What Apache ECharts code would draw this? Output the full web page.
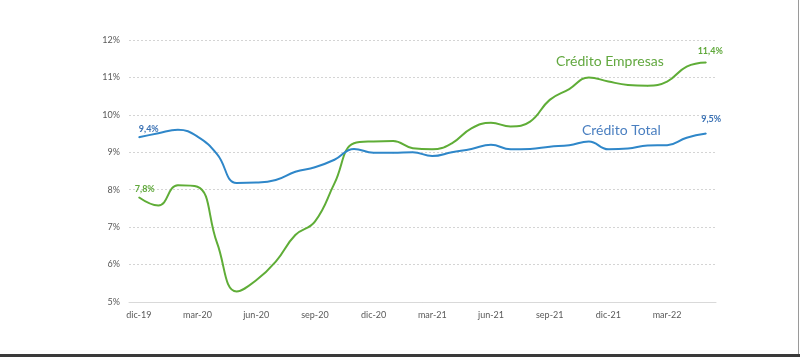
<!DOCTYPE html>
<html><head><meta charset="utf-8">
<script src="https://cdn.jsdelivr.net/npm/echarts@6/dist/echarts.min.js"></script>
<style>html,body{margin:0;padding:0;background:#fff}#c{width:800px;height:357px}</style>
</head><body><div id="c"></div>
<script>
var categories = ['dic-19','ene-20','feb-20','mar-20','abr-20','may-20','jun-20','jul-20','ago-20','sep-20','oct-20','nov-20',
  'dic-20','ene-21','feb-21','mar-21','abr-21','may-21','jun-21','jul-21','ago-21','sep-21','oct-21','nov-21',
  'dic-21','ene-22','feb-22','mar-22','abr-22','may-22'];
var creditoTotal = [9.4,9.51,9.6,9.42,8.95,8.18,8.19,8.26,8.48,8.6,8.8,9.09,
  8.99,8.99,9.0,8.9,9.0,9.09,9.2,9.08,9.09,9.15,9.19,9.29,
  9.08,9.1,9.18,9.19,9.39,9.5];
var creditoEmpresas = [7.8,7.58,8.12,8.08,6.58,5.28,5.58,6.08,6.79,7.15,8.17,9.24,
  9.29,9.3,9.11,9.08,9.24,9.64,9.79,9.69,9.82,10.4,10.69,11.0,
  10.89,10.8,10.78,10.89,11.29,11.4];
var yTicks = [5,6,7,8,9,10,11,12];

var BLUE = '#2f87c9', GREEN = '#5fad37';
var FONT = 'Lato';

function withEndLabels(arr, color, firstOffset, lastOffset){
  return arr.map(function(v,i){
    var d = {value:v};
    if(i===0 || i===arr.length-1){
      d.label = {show:true, position:'top', distance:3,
        formatter: function(p){ return p.value.toFixed(1).replace('.',',')+'%'; },
        color: color, fontWeight:'bold', fontSize:9, fontFamily:FONT,
        offset: i===0 ? firstOffset : lastOffset};
    }
    return d;
  });
}

var chart = echarts.init(document.getElementById('c'), null, {renderer:'canvas'});
chart.setOption({
  animation:false,
  backgroundColor:'#fff',
  grid:{left:129,right:84,top:40,bottom:55,containLabel:false},
  xAxis:{type:'category',data:categories,boundaryGap:true,
    axisLine:{lineStyle:{color:'#d9d9d9',width:1}},axisTick:{show:false},
    axisLabel:{interval:2,color:'#595959',fontSize:9,fontFamily:FONT,margin:9}},
  yAxis:{type:'value',min:yTicks[0],max:yTicks[yTicks.length-1],interval:1,
    axisLine:{show:false},axisTick:{show:false},
    axisLabel:{formatter:'{value}%',color:'#595959',fontSize:9,fontFamily:FONT,margin:9},
    splitLine:{lineStyle:{color:'#d4d4d4',type:[2,2],width:1}}},
  series:[
    {name:'Crédito Total',type:'line',data:withEndLabels(creditoTotal,'#3b72b4',[10,0],[5,-6]),smooth:0.45,showSymbol:true,symbol:'circle',symbolSize:1,
      lineStyle:{color:BLUE,width:2},itemStyle:{color:BLUE},z:3},
    {name:'Crédito Empresas',type:'line',data:withEndLabels(creditoEmpresas,'#5fa83a',[6,0],[4,-3]),smooth:0.45,showSymbol:true,symbol:'circle',symbolSize:1,
      lineStyle:{color:GREEN,width:2},itemStyle:{color:GREEN},z:2}
  ],
  graphic:[
    {type:'text',left:556,top:54,style:{text:'Crédito Empresas',fill:'#62a83f',font:'14px '+FONT}},
    {type:'text',left:582,top:123,style:{text:'Crédito Total',fill:'#4a7fc0',font:'14px '+FONT}},
    {type:'rect',shape:{x:798,y:0,width:1,height:357},style:{fill:'#9a9a9a'}},
    {type:'rect',shape:{x:0,y:354,width:800,height:3},style:{fill:'#3a3a3a'}}
  ]
});
</script></body></html>
